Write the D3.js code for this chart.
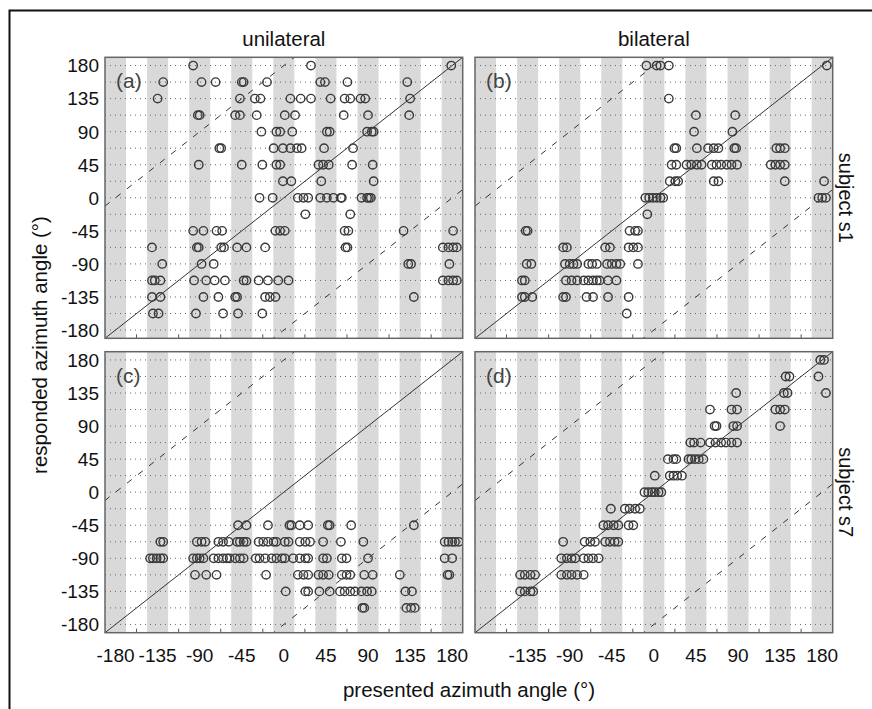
<!DOCTYPE html>
<html>
<head>
<meta charset="utf-8">
<script src="https://cdn.jsdelivr.net/npm/d3@7"></script>
<style>
  body { margin: 0; background: #fff; }
  text { font-family: "Liberation Sans", Arial, sans-serif; fill: #111; }
</style>
</head>
<body>
<div id="vis"></div>
<script>
// each row: [responded angle, [presented angles of the trials in that row]]
const uniS1 = [
  [180, [-97, 29, 179]],
  [157.5, [-129, -88, -73, -45, -43, -18, 39, 44, 68, 132]],
  [135, [-135, -47, -31, -25, 7, 18, 29, 50, 65, 71, 82, 87, 135]],
  [112.5, [-92, -90, -52, -47, -29, 1, 12, 64, 90, 134]],
  [90, [-24, -8, -4, 9, 46, 49, 89, 94, 96]],
  [67.5, [-69, -67, -11, -1, 7, 14, 19, 43, 74]],
  [45, [-91, -45, -23, -8, -4, 37, 42, 48, 73, 95]],
  [22.5, [-1, 8, 40, 96]],
  [0, [-26, -12, 15, 21, 26, 39, 46, 53, 61, 62, 83, 89, 91, 93]],
  [-22.5, [23, 71]],
  [-45, [-97, -86, -72, -66, -9, -4, 1, 65, 69, 128, 181]],
  [-67.5, [-141, -93, -91, -67, -64, -50, -40, -20, 66, 68, 170, 176, 181, 185]],
  [-90, [-130, -88, -75, 133, 136, 177]],
  [-112.5, [-141, -138, -132, -96, -83, -74, -63, -43, -40, -27, -17, -6, 5, 170, 176, 181, 185]],
  [-135, [-141, -132, -86, -70, -52, -50, -20, -15, -9, 139]],
  [-157.5, [-140, -134, -94, -65, -49, -23]]
];

const biS1 = [
  [180, [-8, 3, 7, 16, 185]],
  [135, [16]],
  [112.5, [45, 87]],
  [90, [43, 84]],
  [67.5, [22, 24, 46, 58, 64, 69, 86, 88, 131, 135, 140]],
  [45, [19, 24, 35, 40, 46, 51, 62, 67, 72, 78, 83, 89, 125, 130, 135, 140]],
  [22.5, [17, 23, 26, 64, 69, 140, 182]],
  [0, [-9, -5, -1, 3, 7, 10, 176, 180, 184]],
  [-22.5, [-7]],
  [-45, [-137, -135, -26, -20, -17]],
  [-67.5, [-97, -93, -52, -47, -27, -22, -17]],
  [-90, [-136, -131, -95, -90, -86, -82, -70, -66, -61, -50, -45, -40, -36, -17]],
  [-112.5, [-141, -138, -94, -88, -82, -75, -70, -65, -61, -58, -49, -40]],
  [-135, [-141, -138, -130, -97, -94, -72, -65, -49, -27]],
  [-157.5, [-29]]
];

const uniS7 = [
  [-45, [-49, -40, -17, 6, 8, 17, 26, 47, 49, 72, 139]],
  [-67.5, [-132, -129, -93, -88, -84, -70, -65, -59, -50, -47, -43, -40, -27, -22, -17, -11, -8, 1, 5, 17, 23, 28, 42, 61, 85, 172, 176, 180, 183, 187]],
  [-90, [-143, -140, -136, -132, -129, -97, -93, -90, -86, -75, -70, -65, -61, -58, -52, -47, -43, -30, -26, -20, -13, -8, -2, 1, 10, 17, 23, 26, 42, 46, 62, 67, 90, 172, 180]],
  [-112.5, [-95, -83, -72, -19, 15, 21, 26, 37, 42, 48, 62, 67, 71, 86, 95, 124, 175, 177]],
  [-135, [2, 23, 26, 38, 49, 60, 65, 71, 76, 83, 89, 94, 130, 137]],
  [-157.5, [84, 86, 131, 136, 140]]
];

const biS7 = [
  [180, [178, 182]],
  [157.5, [141, 145, 176]],
  [135, [88, 139, 143, 184]],
  [112.5, [60, 83, 89, 130, 135, 140]],
  [90, [65, 67, 85, 89, 135]],
  [67.5, [39, 43, 50, 60, 66, 72, 77, 83, 89]],
  [45, [15, 21, 24, 37, 40, 44, 48, 53]],
  [22.5, [1, 17, 21, 25, 30]],
  [0, [-10, -6, -2, 1, 5, 8]],
  [-22.5, [-46, -31, -26, -20, -15]],
  [-45, [-54, -49, -43, -38, -27, -22]],
  [-67.5, [-97, -74, -68, -63, -52, -47, -42, -38]],
  [-90, [-99, -93, -88, -84, -75, -70, -65, -59]],
  [-112.5, [-143, -138, -132, -127, -99, -93, -88, -82, -75]],
  [-135, [-143, -138, -132, -129]]
];

const angleTicks = [-180, -135, -90, -45, 0, 45, 90, 135, 180];
const oddTicks = [-157.5, -112.5, -67.5, -22.5, 22.5, 67.5, 112.5, 157.5];
const gridRows = [-180, -157.5, -135, -112.5, -90, -67.5, -45, -22.5, 0, 22.5, 45, 67.5, 90, 112.5, 135, 157.5, 180];

const panels = [
  {rows: uniS1, label: "(a)", x0: 105, y0: 57.3, yLabels: true, xLabels: null},
  {rows: biS1, label: "(b)", x0: 475, y0: 57.3, yLabels: false, xLabels: null, side: "subject s1"},
  {rows: uniS7, label: "(c)", x0: 105, y0: 351.7, yLabels: true, xLabels: angleTicks},
  {rows: biS7, label: "(d)", x0: 475, y0: 351.7, yLabels: false, xLabels: angleTicks.slice(1), side: "subject s7"}
];

var width = 872, height = 709;
var pw = 357.7, ph = 281;
var lim = 191.25;

var svg = d3.select('#vis').append('svg')
  .attr('width', width)
  .attr('height', height);

// outer frame (top and left only visible)
svg.append('path')
  .attr('d', 'M9.5,709 L9.5,10.5 L872,10.5')
  .attr('fill', 'none')
  .attr('stroke', '#111')
  .attr('stroke-width', 2);

var x = d3.scaleLinear().domain([-lim, lim]).range([0, pw]);
var y = d3.scaleLinear().domain([-lim, lim]).range([ph, 0]);

panels.forEach(function (p) {
  var g = svg.append('g').attr('transform', 'translate(' + p.x0 + ',' + p.y0 + ')');
  var cid = 'clip' + p.label.charAt(1);

  g.append('defs').append('clipPath').attr('id', cid)
    .append('rect').attr('width', pw).attr('height', ph);

  // grey bands at multiples of 45
  g.selectAll('.band').data(angleTicks).enter().append('rect')
    .attr('x', function (d) { return Math.max(0, x(d - 11.25)); })
    .attr('width', function (d) { return Math.min(pw, x(d + 11.25)) - Math.max(0, x(d - 11.25)); })
    .attr('y', 0)
    .attr('height', ph)
    .attr('fill', '#d9d9d9');

  // dotted horizontal grid
  g.selectAll('.grid').data(gridRows).enter().append('line')
    .attr('x1', 0).attr('x2', pw)
    .attr('y1', function (d) { return y(d); })
    .attr('y2', function (d) { return y(d); })
    .attr('stroke', '#666')
    .attr('stroke-width', 1)
    .attr('stroke-dasharray', '1,4');

  var clipped = g.append('g').attr('clip-path', 'url(#' + cid + ')');

  // diagonal and wrapped diagonals
  clipped.append('line')
    .attr('x1', x(-lim)).attr('y1', y(-lim))
    .attr('x2', x(lim)).attr('y2', y(lim))
    .attr('stroke', '#333').attr('stroke-width', 1);
  [180, -180].forEach(function (off) {
    clipped.append('line')
      .attr('x1', x(-lim)).attr('y1', y(-lim + off))
      .attr('x2', x(lim)).attr('y2', y(lim + off))
      .attr('stroke', '#333').attr('stroke-width', 1)
      .attr('stroke-dasharray', '6,8');
  });

  // ticks at bottom
  g.selectAll('.tick').data(oddTicks).enter().append('line')
    .attr('x1', function (d) { return x(d); })
    .attr('x2', function (d) { return x(d); })
    .attr('y1', ph).attr('y2', ph - 4)
    .attr('stroke', '#555').attr('stroke-width', 1);

  // circles
  var pts = [];
  p.rows.forEach(function (r) {
    r[1].forEach(function (px) { pts.push({x: px, y: r[0]}); });
  });
  clipped.selectAll('.pt').data(pts).enter().append('circle')
    .attr('cx', function (d) { return x(d.x); })
    .attr('cy', function (d) { return y(d.y); })
    .attr('r', 4.2)
    .attr('fill', 'none')
    .attr('stroke', '#3a3a3a')
    .attr('stroke-width', 1.4);

  // frame
  g.append('rect')
    .attr('width', pw).attr('height', ph)
    .attr('fill', 'none')
    .attr('stroke', '#666')
    .attr('stroke-width', 1.5);

  g.append('text')
    .attr('x', 11).attr('y', 31)
    .style('font-size', '21px')
    .style('fill', '#444')
    .text(p.label);

  if (p.yLabels) {
    g.selectAll('.yl').data(angleTicks).enter().append('text')
      .attr('x', -6)
      .attr('y', function (d) { return y(d); })
      .attr('dy', '0.36em')
      .attr('text-anchor', 'end')
      .style('font-size', '19px')
      .text(function (d) { return d; });
  }
  if (p.xLabels) {
    g.selectAll('.xl').data(p.xLabels).enter().append('text')
      .attr('x', function (d) { return x(d); })
      .attr('y', ph + 29)
      .attr('text-anchor', 'middle')
      .style('font-size', '19px')
      .text(function (d) { return d; });
  }
  if (p.side) {
    g.append('text')
      .attr('transform', 'translate(' + (pw + 6) + ',' + (ph / 2) + ') rotate(90)')
      .attr('text-anchor', 'middle')
      .style('font-size', '20px')
      .text(p.side);
  }
});

svg.append('text')
  .attr('x', 105 + pw / 2).attr('y', 46)
  .attr('text-anchor', 'middle')
  .style('font-size', '20.5px')
  .text('unilateral');
svg.append('text')
  .attr('x', 475 + pw / 2).attr('y', 46)
  .attr('text-anchor', 'middle')
  .style('font-size', '20.5px')
  .text('bilateral');

svg.append('text')
  .attr('transform', 'translate(47,345) rotate(-90)')
  .attr('text-anchor', 'middle')
  .style('font-size', '20.5px')
  .text('responded azimuth angle (°)');

svg.append('text')
  .attr('x', 469).attr('y', 697)
  .attr('text-anchor', 'middle')
  .style('font-size', '20.5px')
  .text('presented azimuth angle (°)');
</script>
</body>
</html>
